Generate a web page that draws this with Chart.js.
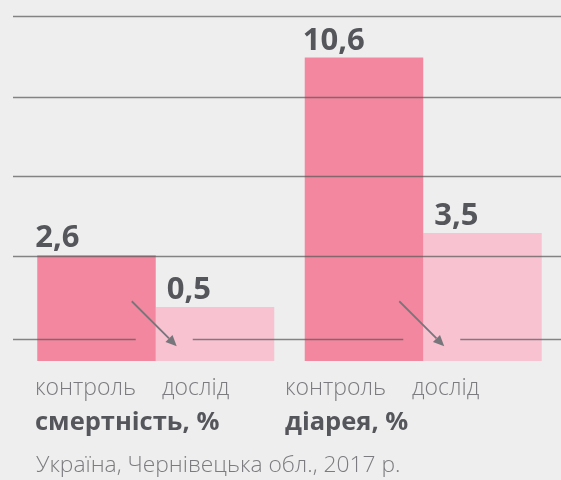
<!DOCTYPE html>
<html>
<head>
<meta charset="utf-8">
<script src="https://cdn.jsdelivr.net/npm/chart.js@4/dist/chart.umd.min.js"></script>
<style>
  html, body { margin: 0; padding: 0; background: #eeeeee; }
  #wrap { width: 561px; height: 480px; }
</style>
</head>
<body>
<div id="wrap"><canvas id="chart" width="561" height="480"></canvas></div>
<script>
// дані
const groups = ['смертність, %', 'діарея, %'];
const seriesNames = ['контроль', 'дослід'];
const control = [2.6, 10.6];
const experiment = [0.5, 3.5];
const footer = 'Україна, Чернівецька обл., 2017 р.';

// шкала: стовпчики стартують нижче нуля (як на оригіналі)
const yMin = -1.68;
const yMax = 12.28;
const gridTicks = [-0.8, 2.55, 5.8, 9.0, 12.28];

const colors = ['#f3879f', '#f8c2d1'];
const darkText = '#55565b';
const lightText = '#7c7c80';
const lineColor = 'rgba(90, 90, 90, 0.72)';

function fmt(v) {
  return v.toFixed(1).replace('.', ',');
}

// малює сітку, стрілки, підписи
const decor = {
  id: 'decor',
  afterDatasetsDraw(chart) {
    const ctx = chart.ctx;
    const y = chart.scales.y;
    const W = chart.width;
    const m0 = chart.getDatasetMeta(0);
    const m1 = chart.getDatasetMeta(1);

    // межі між стовпчиками, для розривів у нижній лінії
    const bounds = m0.data.map(b => b.x + b.width / 2);
    const gapFrom = bounds.map(b => b - 20);
    const gapTo = bounds.map(b => b + 37);

    ctx.save();
    ctx.strokeStyle = lineColor;
    ctx.lineWidth = 1.3;
    gridTicks.forEach((t, i) => {
      const py = Math.round(y.getPixelForValue(t)) + 0.5;
      ctx.beginPath();
      if (i === 0) {
        let x = 13;
        bounds.forEach((b, k) => {
          ctx.moveTo(x, py);
          ctx.lineTo(gapFrom[k], py);
          x = gapTo[k];
        });
        ctx.moveTo(x, py);
        ctx.lineTo(W, py);
      } else {
        ctx.moveTo(13, py);
        ctx.lineTo(W, py);
      }
      ctx.stroke();
    });

    // стрілки
    const gy = y.getPixelForValue(gridTicks[0]);
    ctx.strokeStyle = '#77777b';
    ctx.fillStyle = '#77777b';
    ctx.lineWidth = 1.8;
    bounds.forEach(b => {
      const x1 = b - 24, y1 = gy - 38;
      const x2 = b + 21, y2 = gy + 7;
      const a = Math.atan2(y2 - y1, x2 - x1);
      const len = 11, hw = 5;
      const bx = x2 - len * Math.cos(a), by = y2 - len * Math.sin(a);
      ctx.beginPath();
      ctx.moveTo(x1, y1);
      ctx.lineTo(bx, by);
      ctx.stroke();
      ctx.beginPath();
      ctx.moveTo(x2, y2);
      ctx.lineTo(bx + hw * Math.sin(a), by - hw * Math.cos(a));
      ctx.lineTo(bx - hw * Math.sin(a), by + hw * Math.cos(a));
      ctx.closePath();
      ctx.fill();
    });

    // значення над стовпчиками
    ctx.fillStyle = darkText;
    ctx.font = 'bold 31px "Open Sans"';
    ctx.textBaseline = 'alphabetic';
    ctx.textAlign = 'left';
    const offs = [-2, 11];
    [m0, m1].forEach((meta, di) => {
      const vals = di === 0 ? control : experiment;
      meta.data.forEach((bar, i) => {
        ctx.fillText(fmt(vals[i]), bar.x - bar.width / 2 + offs[di], bar.y - 8);
      });
    });

    // підписи під стовпчиками
    const cols = [35, 285];
    const subX = [0, 127];
    groups.forEach((g, i) => {
      ctx.fillStyle = lightText;
      ctx.font = '300 23px "Open Sans"';
      seriesNames.forEach((s, k) => {
        ctx.fillText(s, cols[i] + subX[k], 395);
      });
      ctx.fillStyle = darkText;
      ctx.font = 'bold 25.5px "Open Sans"';
      ctx.fillText(g, cols[i], 430);
    });

    ctx.fillStyle = lightText;
    ctx.font = '300 22.8px "Open Sans"';
    ctx.fillText(footer, 36, 472);
    ctx.restore();
  }
};

new Chart(document.getElementById('chart'), {
  type: 'bar',
  data: {
    labels: groups,
    datasets: [
      { label: seriesNames[0], data: control, backgroundColor: colors[0], base: yMin },
      { label: seriesNames[1], data: experiment, backgroundColor: colors[1], base: yMin }
    ]
  },
  options: {
    responsive: false,
    animation: false,
    layout: { padding: { left: 22, right: 4, top: 16, bottom: 119 } },
    datasets: {
      bar: { barPercentage: 1, categoryPercentage: 0.886, borderWidth: 0 }
    },
    scales: {
      x: { display: false },
      y: { display: false, min: yMin, max: yMax }
    },
    plugins: {
      legend: { display: false },
      tooltip: { enabled: false }
    }
  },
  plugins: [decor]
});
</script>
</body>
</html>
